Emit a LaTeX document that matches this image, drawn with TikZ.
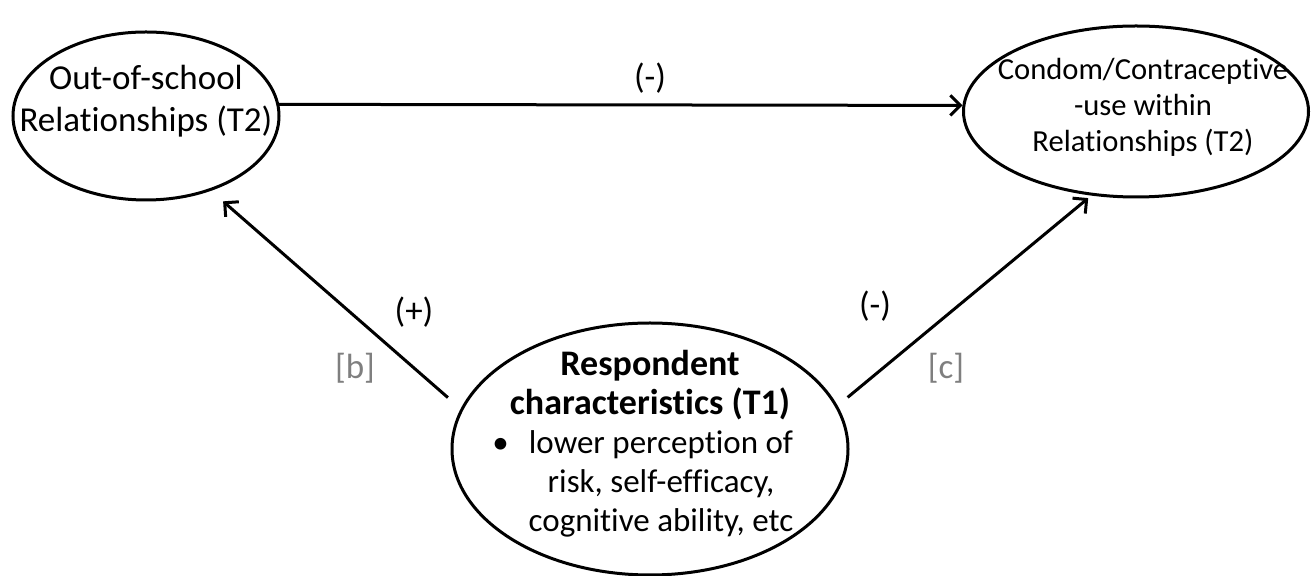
\documentclass[tikz,border=0pt]{standalone}
\usepackage{fontspec}
\setmainfont[Ligatures=NoCommon]{Carlito}
\usetikzlibrary{arrows.meta,shapes}
\definecolor{labgray}{RGB}{127,127,127}
\tikzstyle{construct} = [ellipse, draw, line width=1.5pt, inner sep=0pt,
    font=\fontsize{17.5}{21}\selectfont]
\tikzstyle{link} = [-{Straight Barb[length=5pt,width=10pt]}, line width=1.5pt]
\tikzstyle{lbl} = [inner sep=0pt, font=\fontsize{17.5}{21}\selectfont]
\tikzstyle{reflbl} = [lbl, text=labgray]
\newcommand{\lift}[2]{\raisebox{#1}[0pt][0pt]{\makebox[0pt]{\begin{tabular}{@{}c@{}}#2\end{tabular}}}}
\newcommand{\hdr}[1]{{\fontsize{18}{19.5}\selectfont\bfseries #1}}

\begin{document}
\begin{tikzpicture}[x=0.5pt, y=-0.5pt, node distance=495pt]
  \useasboundingbox (0,0) rectangle (1313,576);
  \node[construct, minimum width=133pt, minimum height=84pt] (oos) at (146,116)
    {\lift{2.5pt}{Out-of-school\\Relationships (T2)}};
  \node[construct, minimum width=172.5pt, minimum height=85.5pt, yshift=2.25pt,
    font=\fontsize{15.3}{18}\selectfont] (use) [right of=oos]
    {\lift{-2.2pt}{\hspace*{7pt}Condom/Contraceptive\\\hspace*{7pt}-use within\\\hspace*{7pt}Relationships (T2)}};
  \node[construct, minimum width=198pt, minimum height=126pt, node distance=166.5pt,
    xshift=252pt, font=\fontsize{16.5}{19.5}\selectfont] (resp) [below of=oos]
    {\lift{-2.5pt}{\hdr{Respondent}\\\hdr{characteristics (T1)}\\
     \hspace*{11pt}\llap{\textbullet\hspace{10pt}}lower perception of\\
     \hspace*{11pt}risk, self-efficacy,\\\hspace*{11pt}cognitive ability, etc}};

  \draw[link] (oos.5) -- (use.178);
  \draw[link, shorten <=8.5pt, shorten >=8pt] (resp.168) -- (oos.-49);
  \draw[link, shorten <=6.5pt, shorten >=2pt] (resp.13) -- (use.-118);

  \node[lbl] (topsign) at (650,78) {(-)};
  \node[lbl] (bsign) at (414,312) {(+)};
  \node[reflbl] (bref) at (355,368) {[b]};
  \node[lbl] (csign) at (875,306) {(-)};
  \node[reflbl] (cref) at (946,368) {[c]};
\end{tikzpicture}
\end{document}
